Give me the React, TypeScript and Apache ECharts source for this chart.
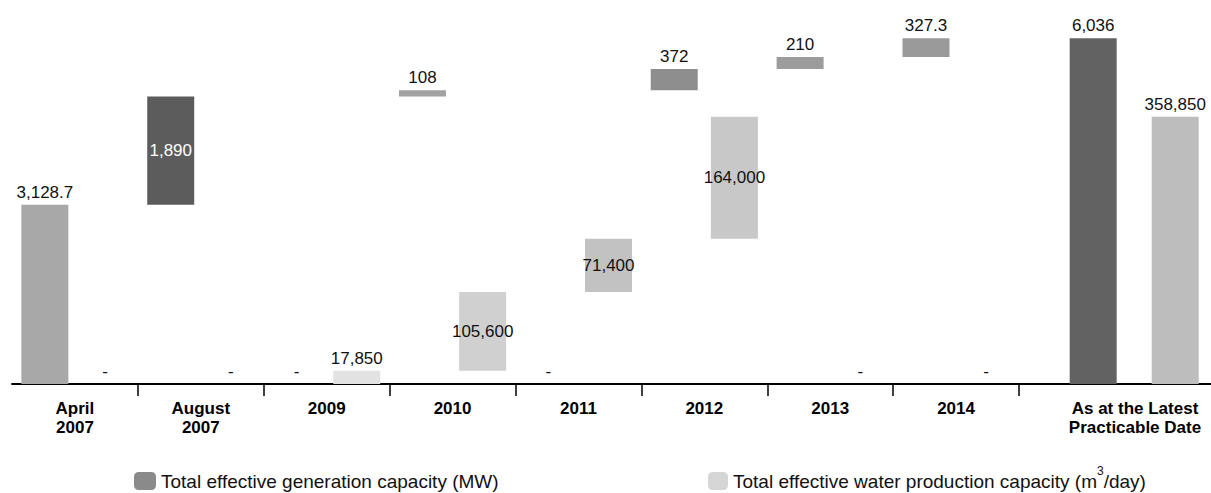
import React, { useEffect, useRef } from "react";
import * as echarts from "echarts";

// ---- data ----
const categories = ["April\n2007", "August\n2007", "2009", "2010", "2011", "2012", "2013", "2014"];
const totalCategory = ["As at the Latest\nPracticable Date"];
const genIncrements = [3128.7, 1890, 0, 108, 0, 372, 210, 327.3];
const waterIncrements = [0, 0, 17850, 105600, 71400, 164000, 0, 0];
const genTotal = [6036];
const waterTotal = [358850];
const genName = "Total effective generation capacity (MW)";
const waterName = "Total effective water production capacity (m³/day)";

// ---- styles ----
const genColors = ["#a8a8a8", "#5c5c5c", "#9a9a9a", "#a2a2a2", "#9a9a9a", "#8e8e8e", "#9c9c9c", "#9a9a9a"];
const waterColors = ["#cccccc", "#cccccc", "#e2e2e2", "#d0d0d0", "#c2c2c2", "#c8c8c8", "#cccccc", "#cccccc"];
const genTotalColor = "#626262";
const waterTotalColor = "#bdbdbd";
const FONT = "'Liberation Sans', Arial, sans-serif";
const GEN_MAX = 6355;
const WATER_MAX = 488660;

const fmt = (v: number) =>
  v === 0 ? "-" : v.toLocaleString("en-US", { maximumFractionDigits: 1 });

const bases = (vals: number[]) => {
  let cum = 0;
  return vals.map((v) => {
    const b = v > 0 ? cum : 0;
    cum += v;
    return b;
  });
};

const labelStyle = { fontFamily: FONT, fontSize: 17, color: "#111" };

const buildItems = (vals: number[], colors: string[], max: number, insideColor: string) =>
  vals.map((v, i) => {
    const inside = i > 0 && v / max > 0.08;
    return {
      value: v,
      itemStyle: { color: colors[i] },
      label: {
        show: true,
        position: inside ? "inside" : "top",
        color: inside ? insideColor : "#111",
        distance: 4,
      },
    };
  });

export default function App() {
  const ref = useRef<HTMLDivElement>(null);
  useEffect(() => {
    if (!ref.current) return;
    const chart = echarts.init(ref.current, undefined, { renderer: "svg" });
    const genBase = bases(genIncrements);
    const waterBase = bases(waterIncrements);
    const barCommon = { barWidth: 47 };
    const xAxisCommon = {
      type: "category" as const,
      axisLine: { show: true, lineStyle: { color: "#000", width: 2 } },
      axisLabel: {
        fontFamily: FONT,
        fontSize: 17,
        fontWeight: "bold",
        color: "#000",
        lineHeight: 19,
        margin: 15,
        interval: 0,
      },
      splitLine: { show: false },
    };
    chart.setOption({
      animation: false,
      backgroundColor: "#fff",
      grid: [
        { left: 12, right: 192, top: 20, bottom: 109, containLabel: false },
        { left: 1019, right: 0, top: 20, bottom: 109, containLabel: false },
      ],
      legend: [
        {
          data: [genName],
          left: 134,
          top: 471,
          padding: 0,
          itemWidth: 22,
          itemHeight: 18,
          textStyle: { fontFamily: FONT, fontSize: 19, lineHeight: 20, color: "#111" },
        },
        {
          data: [waterName],
          left: 708,
          top: 465,
          padding: 0,
          itemWidth: 20,
          itemHeight: 18,
          formatter: () => "Total effective water production capacity (m{sup|3}/day)",
          textStyle: {
            fontFamily: FONT,
            fontSize: 19,
            lineHeight: 20,
            color: "#111",
            rich: {
              sup: { fontFamily: FONT, fontSize: 12, color: "#111", padding: [0, 0, 20, 0] },
            },
          },
        },
      ],
      xAxis: [
        {
          ...xAxisCommon,
          gridIndex: 0,
          data: categories,
          axisTick: {
            show: true,
            length: 12,
            lineStyle: { color: "#000", width: 1.5 },
            interval: (i: number) => i !== 0,
          },
        },
        {
          ...xAxisCommon,
          gridIndex: 1,
          data: totalCategory,
          axisLabel: { ...xAxisCommon.axisLabel, padding: [0, 0, 0, 40] },
          axisTick: { show: false },
        },
      ],
      yAxis: [
        { type: "value", gridIndex: 0, min: 0, max: GEN_MAX, show: false },
        { type: "value", gridIndex: 0, min: 0, max: WATER_MAX, show: false },
        { type: "value", gridIndex: 1, min: 0, max: GEN_MAX, show: false },
        { type: "value", gridIndex: 1, min: 0, max: WATER_MAX, show: false },
      ],
      series: [
        {
          name: "genBase",
          type: "bar",
          xAxisIndex: 0,
          yAxisIndex: 0,
          stack: "gen",
          ...barCommon,
          barGap: "28%",
          itemStyle: { color: "transparent" },
          data: genBase,
          silent: true,
        },
        {
          name: genName,
          type: "bar",
          xAxisIndex: 0,
          yAxisIndex: 0,
          stack: "gen",
          ...barCommon,
          barGap: "28%",
          itemStyle: { color: "#8a8a8a" },
          label: { ...labelStyle, formatter: (p: any) => fmt(p.value) },
          data: buildItems(genIncrements, genColors, GEN_MAX, "#fff"),
        },
        {
          name: "waterBase",
          type: "bar",
          xAxisIndex: 0,
          yAxisIndex: 1,
          stack: "water",
          ...barCommon,
          barGap: "28%",
          itemStyle: { color: "transparent" },
          data: waterBase,
          silent: true,
        },
        {
          name: waterName,
          type: "bar",
          xAxisIndex: 0,
          yAxisIndex: 1,
          stack: "water",
          ...barCommon,
          barGap: "28%",
          itemStyle: { color: "#d6d6d6" },
          label: { ...labelStyle, formatter: (p: any) => fmt(p.value) },
          data: buildItems(waterIncrements, waterColors, WATER_MAX, "#111"),
        },
        {
          name: "spacer",
          type: "bar",
          xAxisIndex: 1,
          yAxisIndex: 2,
          barWidth: 22,
          barGap: "74.5%",
          itemStyle: { color: "transparent" },
          data: [0],
          silent: true,
        },
        {
          name: genName,
          type: "bar",
          xAxisIndex: 1,
          yAxisIndex: 2,
          ...barCommon,
          barGap: "74.5%",
          itemStyle: { color: genTotalColor },
          label: { ...labelStyle, show: true, position: "top", distance: 4, formatter: (p: any) => fmt(p.value) },
          data: genTotal,
        },
        {
          name: waterName,
          type: "bar",
          xAxisIndex: 1,
          yAxisIndex: 3,
          ...barCommon,
          barGap: "74.5%",
          itemStyle: { color: waterTotalColor },
          label: { ...labelStyle, show: true, position: "top", distance: 4, formatter: (p: any) => fmt(p.value) },
          data: waterTotal,
        },
      ],
    });
    return () => chart.dispose();
  }, []);
  return (
    <div
      ref={ref}
      style={{ position: "absolute", left: 0, top: 0, width: 1211, height: 493, background: "#fff" }}
    />
  );
}
